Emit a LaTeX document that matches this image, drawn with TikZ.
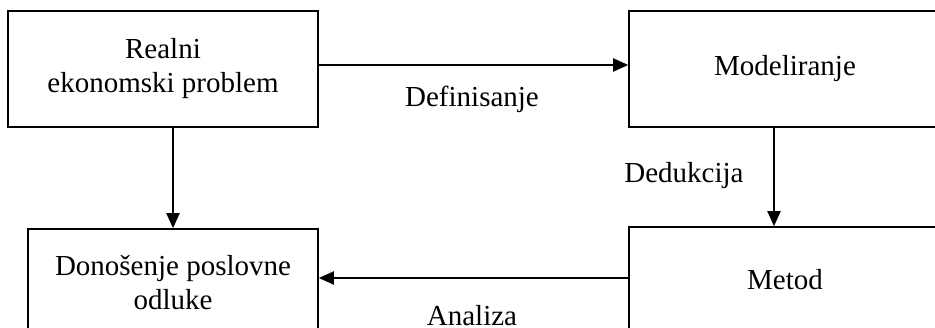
\documentclass[tikz,border=0pt]{standalone}
\usepackage{fontspec}
\setmainfont{Liberation Serif}
\usetikzlibrary{arrows.meta}
\begin{document}
\begin{tikzpicture}[x=1pt,y=1pt,
  box/.style={draw=black, line width=1.6pt, inner sep=0pt, align=center,
    font=\fontsize{29}{34}\selectfont},
  lbl/.style={anchor=base, inner sep=0pt, font=\fontsize{29}{34}\selectfont},
  conn/.style={line width=2pt, -{Triangle[length=15pt,width=13pt]}}]
\useasboundingbox (0,0) rectangle (935,328);
\clip (0,0) rectangle (935,328);
\fill[white] (0,0) rectangle (935,328);
\node[box, minimum width=310pt, minimum height=116pt] (b1) at (163,259) {Realni\\ekonomski problem};
\node[box, minimum width=312pt, minimum height=116pt] (b2) at (785,259) {Modeliranje};
\node[box, minimum width=290pt, minimum height=108pt] (b3) at (173,45) {Donošenje poslovne\\odluke};
\node[box, minimum width=312pt, minimum height=106pt] (b4) at (785,48) {Metod};
\draw[conn] ([yshift=4pt]b1.east) -- ([yshift=4pt]b2.west);
\draw[conn] (b3.north |- b1.south) -- (b3.north);
\draw[conn] ([xshift=-11pt]b2.south) -- ([xshift=-11pt]b4.north);
\draw[conn] ([yshift=2pt]b4.west) -- ([yshift=5pt]b3.east);
\node[lbl] (l1) at (472,221) {Definisanje};
\node[lbl] (l2) at (684,145) {Dedukcija};
\node[lbl] (l3) at (472,2) {Analiza};
\end{tikzpicture}
\end{document}
